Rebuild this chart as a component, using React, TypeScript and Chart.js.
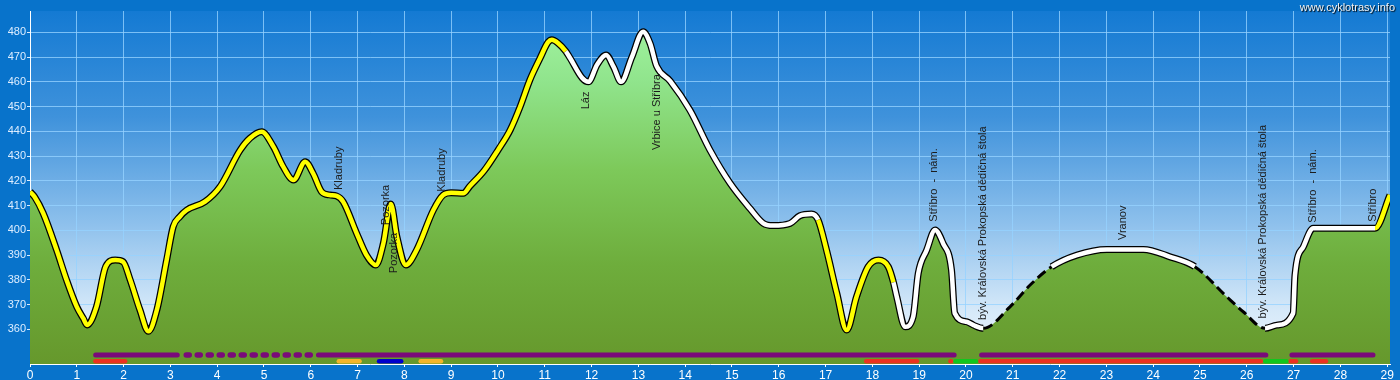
import { useEffect, useRef } from 'react';
import { Chart, registerables } from 'chart.js';

Chart.register(...registerables);

// ---- Elevation profile (km, m a.s.l.) ----
const profileKm = [
  0, 0.1, 0.28, 0.57, 0.78, 1.0, 1.14, 1.22, 1.42, 1.62, 1.82, 1.99, 2.14, 2.35, 2.53, 2.71, 2.92,
  3.06, 3.2, 3.35, 3.74, 4.06, 4.49, 4.7, 4.95, 5.2, 5.41, 5.63, 5.88, 6.05, 6.23, 6.4, 6.55, 6.69,
  6.98, 7.19, 7.39, 7.55, 7.71, 7.84, 8.03, 8.26, 8.62, 8.83, 9.0, 9.26, 9.4, 9.7, 10.0, 10.26,
  10.47, 10.68, 10.9, 11.07, 11.15, 11.28, 11.45, 11.54, 11.8, 11.93, 12.12, 12.31, 12.47, 12.63,
  12.86, 13.1, 13.25, 13.39, 13.68, 14.1, 14.53, 14.96, 15.38, 15.67, 15.88, 16.24, 16.45, 16.7,
  16.84, 17.02, 17.24, 17.45, 17.66, 17.91, 18.13, 18.34, 18.45, 18.52, 18.7, 18.87, 18.98, 19.16,
  19.34, 19.51, 19.69, 19.76, 20.01, 20.16, 20.37, 20.94, 21.37, 21.83, 22.37, 23.01, 23.79, 24.36,
  24.89, 25.57, 25.93, 26.39, 26.64, 26.99, 27.03, 27.21, 27.42, 28.74, 29.06,
];
const profileElev = [
  415.6, 413.5, 407, 392, 380, 369.1, 364.4, 361.8, 369.1, 385.5, 388, 387.3, 380, 367.8, 359.2, 367.8, 388,
  401.5, 405.5, 408.2, 411.6, 417.6, 432.4, 437.2, 439.8, 433.8, 425.7, 420.3, 427.7, 423, 415.6, 414.3, 413.9, 411.6,
  398.8, 390, 386, 394.7, 410.6, 397.4, 386, 392, 408.2, 414.3, 415.2, 415, 417.9, 424, 432.4, 440.5,
  449.8, 460.7, 469.6, 476, 477, 475.7, 472.3, 469.6, 461.5, 460, 467, 470.8, 466, 460,
  470, 480.2, 475.5, 466.3, 460.3, 448.6, 432.4, 419, 408.9, 402.8, 401.9, 402.8, 405.9, 406.6,
  404.2, 392, 374.5, 359.7, 373.1, 385.3, 388, 385.3, 379, 373.2, 361, 365, 382.6, 392,
  400.1, 394.7, 384, 366.5, 363.1, 361.7, 360.4, 369.1, 377.9, 385.3, 390, 392.3, 392.3, 389.3,
  385.3, 373.2, 367, 360.4, 361.7, 366.5, 381.9, 393.4, 400.8, 400.8, 414.3,
];

// km ranges of the profile line drawn yellow / dashed (rest is white)
const yellowRanges = [[0, 11.45], [16.84, 18.45], [28.74, 29.06]];
const dashedRanges = [[20.37, 21.83], [24.89, 26.39]];

// ---- Route surface/type bars (km from, km to) ----
const purpleSolid = [[1.35, 3.2], [6.11, 19.8], [20.28, 26.46], [26.91, 28.75]];
const purpleDotted = [[3.28, 6.05]];
const redSpans = [[1.35, 2.08], [17.82, 19.0], [19.62, 19.73], [20.26, 26.35], [26.89, 27.1], [27.35, 27.74]];
const orangeSpans = [[6.55, 7.09], [8.3, 8.83]];
const blueSpans = [[7.41, 7.98]];
const greenSpans = [[19.73, 20.26], [26.35, 26.89]];

// ---- Place labels ----
const labelTexts = [
  'Kladruby', 'Pozorka', 'Pozorka', 'Kladruby', 'Láz', 'Vrbice u Stříbra', 'Stříbro  -  nám.',
  'býv. Královská Prokopská dědičná štola', 'Vranov', 'býv. Královská Prokopská dědičná štola',
  'Stříbro  -  nám.', 'Stříbro',
];
const labelKm = [6.6, 7.6, 7.78, 8.8, 11.88, 13.39, 19.32, 20.37, 23.36, 26.35, 27.41, 28.69];
const labelElev = [416.3, 402.1, 382.7, 415.6, 448.9, 432.4, 403.5, 363.8, 396.1, 364.4, 403.1, 403.5];

// ---- Axes ----
const xTicks = [0, 1, 2, 3, 4, 5, 6, 7, 8, 9, 10, 11, 12, 13, 14, 15, 16, 17, 18, 19, 20, 21, 22, 23, 24, 25, 26, 27, 28, 29];
const yTicks = [360, 370, 380, 390, 400, 410, 420, 430, 440, 450, 460, 470, 480];
const xMin = 0;
const xMax = 29.06;
const yMin = 346;
const yMax = 488.6;
const watermark = 'www.cyklotrasy.info';

const FONT = '"Liberation Sans", Arial, sans-serif';
const GRID = 'rgba(150,210,255,0.78)';

function inRanges(ranges: number[][], a: number, b: number) {
  const m = (a + b) / 2;
  return ranges.some(([s, e]) => m >= s && m <= e);
}

export default function App() {
  const ref = useRef<HTMLCanvasElement | null>(null);

  useEffect(() => {
    const canvas = ref.current;
    if (!canvas) return;
    const points = profileKm.map((x, i) => ({ x, y: profileElev[i] }));

    const bgPlugin = {
      id: 'bg',
      beforeDraw(chart: any) {
        const { ctx, chartArea: a } = chart;
        ctx.save();
        ctx.fillStyle = '#0873cb';
        ctx.fillRect(0, 0, chart.width, chart.height);
        const g = ctx.createLinearGradient(0, a.top, 0, a.bottom);
        g.addColorStop(0, '#147ad3');
        g.addColorStop(0.3, '#3f92db');
        g.addColorStop(0.6, '#8dc0ec');
        g.addColorStop(0.85, '#d6e9f9');
        g.addColorStop(1, '#eef6fe');
        ctx.fillStyle = g;
        ctx.fillRect(a.left, a.top, a.right - a.left, a.bottom - a.top);
        ctx.restore();
      },
    };

    const overlayPlugin = {
      id: 'overlay',
      afterDatasetsDraw(chart: any) {
        const { ctx, chartArea: a } = chart;
        const xs = chart.scales.x;
        const ys = chart.scales.y;
        const drawSpans = (spans: number[][], color: string, yPix: number, w: number, dash: number[]) => {
          ctx.save();
          ctx.strokeStyle = color;
          ctx.lineWidth = w;
          ctx.lineCap = 'round';
          ctx.setLineDash(dash);
          const r = w / 2;
          spans.forEach(([s, e]) => {
            const x0 = xs.getPixelForValue(s) + r;
            const x1 = Math.max(x0 + 0.1, xs.getPixelForValue(e) - r);
            ctx.beginPath();
            ctx.moveTo(x0, yPix);
            ctx.lineTo(x1, yPix);
            ctx.stroke();
          });
          ctx.restore();
        };
        const row1 = a.bottom - 9;
        const row2 = a.bottom - 2.8;
        drawSpans(purpleSolid, '#7a0a7a', row1, 5, []);
        drawSpans(purpleDotted, '#7a0a7a', row1, 5.5, [3, 8]);
        drawSpans(redSpans, '#ec3220', row2, 4.5, []);
        drawSpans(orangeSpans, '#f4b52a', row2, 4.5, []);
        drawSpans(blueSpans, '#0000cc', row2, 4.5, []);
        drawSpans(greenSpans, '#12c61e', row2, 4.5, []);

        // place labels
        ctx.save();
        ctx.font = `11px ${FONT}`;
        ctx.fillStyle = '#1c1c1c';
        ctx.textAlign = 'left';
        ctx.textBaseline = 'middle';
        labelTexts.forEach((t, i) => {
          const x = xs.getPixelForValue(labelKm[i]);
          const y = ys.getPixelForValue(labelElev[i]);
          ctx.save();
          ctx.translate(x, y);
          ctx.rotate(-Math.PI / 2);
          ctx.fillText(t, 0, 0);
          ctx.restore();
        });
        ctx.restore();
      },
      afterDraw(chart: any) {
        const { ctx } = chart;
        ctx.save();
        ctx.font = `11px ${FONT}`;
        ctx.textAlign = 'right';
        ctx.textBaseline = 'alphabetic';
        ctx.shadowColor = 'rgba(0,0,0,0.95)';
        ctx.shadowOffsetX = 1;
        ctx.shadowOffsetY = 1;
        ctx.shadowBlur = 1;
        ctx.fillStyle = '#f2f2f2';
        ctx.fillText(watermark, 1395, 11);
        ctx.restore();
      },
    };

    const chart = new Chart(canvas, {
      type: 'line',
      data: {
        datasets: [
          {
            // area fill under the profile
            data: points,
            order: 3,
            borderWidth: 0,
            borderColor: 'rgba(0,0,0,0)',
            cubicInterpolationMode: 'monotone',
            pointRadius: 0,
            fill: 'start',
            backgroundColor: (c: any) => {
              const a = c.chart.chartArea;
              if (!a) return '#7cc058';
              const g = c.chart.ctx.createLinearGradient(0, a.top, 0, a.bottom);
              g.addColorStop(0, '#a4f6a4');
              g.addColorStop(0.2, '#90e48c');
              g.addColorStop(0.45, '#7dc95a');
              g.addColorStop(0.72, '#6ead3c');
              g.addColorStop(1, '#66982c');
              return g;
            },
          } as any,
          {
            // black outline
            data: points,
            order: 2,
            borderWidth: 7,
            borderColor: '#000',
            cubicInterpolationMode: 'monotone',
            pointRadius: 0,
            fill: false,
            segment: {
              borderColor: (s: any) => (inRanges(dashedRanges, s.p0.parsed.x, s.p1.parsed.x) ? 'rgba(0,0,0,0)' : '#000'),
            },
          } as any,
          {
            // coloured core
            data: points,
            order: 1,
            borderWidth: 4.5,
            borderColor: '#fff',
            cubicInterpolationMode: 'monotone',
            pointRadius: 0,
            fill: false,
            segment: {
              borderColor: (s: any) => {
                const a = s.p0.parsed.x;
                const b = s.p1.parsed.x;
                if (inRanges(dashedRanges, a, b)) return '#000';
                if (inRanges(yellowRanges, a, b)) return '#ffff00';
                return '#ffffff';
              },
              borderWidth: (s: any) => (inRanges(dashedRanges, s.p0.parsed.x, s.p1.parsed.x) ? 3 : 4.5),
              borderDash: (s: any) => (inRanges(dashedRanges, s.p0.parsed.x, s.p1.parsed.x) ? [10, 5] : []),
            },
          } as any,
        ],
      },
      options: {
        animation: false,
        responsive: false,
        devicePixelRatio: 1,
        layout: { padding: { top: 11, right: 10, left: 0, bottom: 0 } },
        plugins: { legend: { display: false }, tooltip: { enabled: false } },
        elements: { point: { radius: 0 } },
        scales: {
          x: {
            type: 'linear',
            min: xMin,
            max: xMax,
            afterBuildTicks: (s: any) => {
              s.ticks = xTicks.map((v) => ({ value: v }));
            },
            afterFit: (s: any) => {
              s.height = 16;
            },
            ticks: {
              color: '#ffffff',
              font: { family: FONT, size: 12 },
              padding: 1,
              maxRotation: 0,
              autoSkip: false,
              callback: (v: any) => String(v),
            },
            grid: { color: GRID, tickLength: 3, tickColor: '#ffffff' },
            border: { color: '#ffffff', width: 1 },
          },
          y: {
            type: 'linear',
            min: yMin,
            max: yMax,
            afterBuildTicks: (s: any) => {
              s.ticks = yTicks.map((v) => ({ value: v }));
            },
            afterFit: (s: any) => {
              s.width = 30;
            },
            ticks: {
              color: '#dcedff',
              font: { family: FONT, size: 11 },
              padding: 1,
              callback: (v: any) => String(v),
            },
            grid: { color: GRID, tickLength: 3, tickColor: '#dcedff' },
            border: { color: '#ffffff', width: 1 },
          },
        },
      } as any,
      plugins: [bgPlugin, overlayPlugin],
    });
    return () => chart.destroy();
  }, []);

  return (
    <div style={{ position: 'fixed', left: 0, top: 0, width: 1400, height: 380 }}>
      <canvas ref={ref} width={1400} height={380} style={{ display: 'block', width: 1400, height: 380 }} />
    </div>
  );
}
